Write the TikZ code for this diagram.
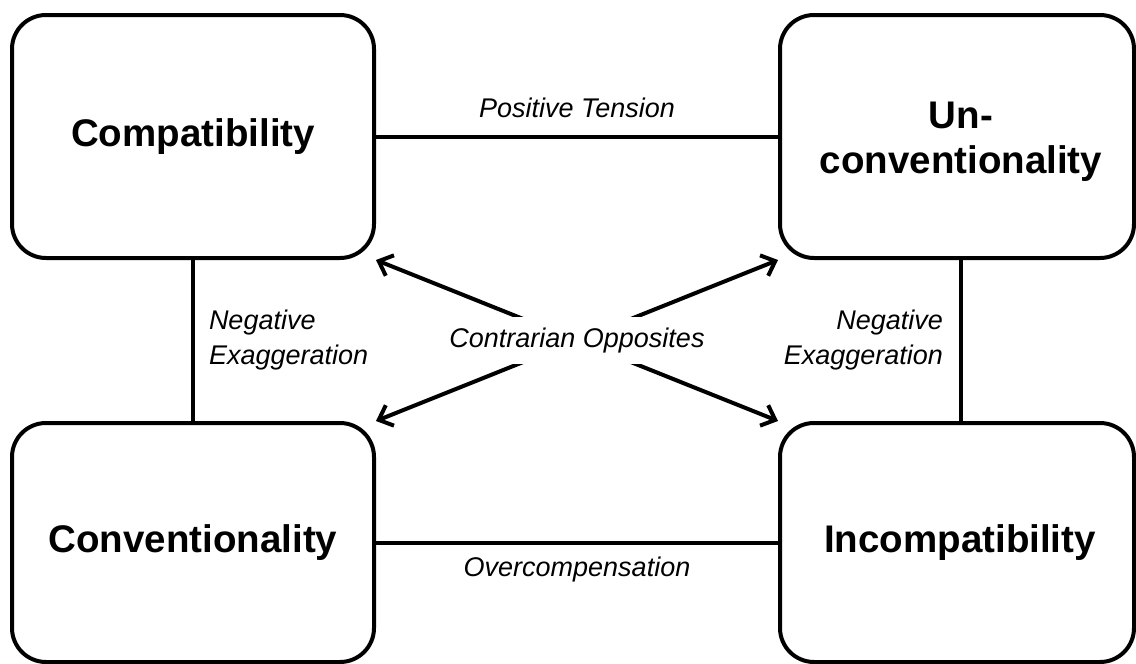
\documentclass[tikz,border=0pt]{standalone}
\usepackage{fontspec}
\setmainfont{Liberation Sans}
\usetikzlibrary{arrows.meta}
\begin{document}
\begin{tikzpicture}[x=1pt,y=-1pt,
  box/.style={draw, line width=4pt, rounded corners=34pt, inner sep=0pt,
    font=\bfseries\fontsize{38.5}{45}\selectfont, align=center},
  conn/.style={line width=4pt},
  lbl/.style={font=\itshape\fontsize{27}{35}\selectfont, inner sep=0pt},
  opp/.style={line width=4pt, {Straight Barb[length=12pt,width=22pt]}-{Straight Barb[length=12pt,width=22pt]}}
]
\useasboundingbox (0,0) rectangle (1136,664);
\fill[white] (0,0) rectangle (1136,664);
\node[box, minimum width=362pt, minimum height=243pt] (tl) at (193,136.5) {Compatibility};
\node[box, minimum width=354pt, minimum height=243pt] (tr) at (957,136.5) {};
\node[font=\bfseries\fontsize{38.5}{45}\selectfont, align=center, inner sep=0pt] (trt) at (961,142) {Un-\\conventionality};
\node[box, minimum width=362pt, minimum height=239pt] (bl) at (193,542.5) {Conventionality};
\node[box, minimum width=354pt, minimum height=239pt] (br) at (957,542.5) {};
\node[font=\bfseries\fontsize{38.5}{45}\selectfont, inner sep=0pt] (brt) at (960,542.5) {Incompatibility};

\draw[conn] (tl.east) -- node[lbl, midway, yshift=29pt] {Positive Tension} (tl.east -| tr.west);
\draw[conn] (bl.east) -- node[lbl, midway, yshift=-27pt] {Overcompensation} (bl.east -| br.west);
\draw[conn] (tl.south) -- node[lbl, midway, anchor=west, xshift=14pt, align=left] {Negative\\Exaggeration} (tl.south |- bl.north);
\draw[conn] ([xshift=4pt]tr.south) -- node[lbl, midway, anchor=east, xshift=-16pt, align=right] {Negative\\Exaggeration} ([xshift=4pt]tr.south |- br.north);

\draw[opp] (tl.south east) -- (br.north west);
\draw[opp] (bl.north east) -- (tr.south west);
\node[lbl, fill=white, inner xsep=4pt, inner ysep=11pt] (co) at (577,340.5) {Contrarian Opposites};
\end{tikzpicture}
\end{document}
